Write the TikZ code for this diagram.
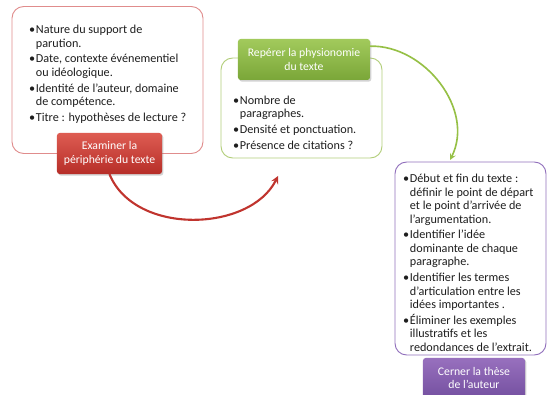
\documentclass[tikz,border=0pt]{standalone}
\usepackage{fontspec}
\setmainfont{Carlito}
\usetikzlibrary{arrows, positioning, shadows}
\definecolor{texte}{RGB}{30,30,30}
\definecolor{rougecadre}{RGB}{224,140,140}
\definecolor{rougehaut}{RGB}{222,92,82}
\definecolor{rougebas}{RGB}{182,46,40}
\definecolor{rougefleche}{RGB}{192,52,46}
\definecolor{vertcadre}{RGB}{178,206,122}
\definecolor{verthaut}{RGB}{162,202,92}
\definecolor{vertbas}{RGB}{122,166,56}
\definecolor{vertfleche}{RGB}{150,192,70}
\definecolor{violetcadre}{RGB}{145,112,188}
\definecolor{violethaut}{RGB}{152,112,190}
\definecolor{violetbas}{RGB}{116,80,160}

\newcommand{\puce}{\makebox[0.55em][l]{•}}
\newcommand{\suite}{\hspace*{0.55em}}

\tikzset{
  cadre/.style={draw, line width=0.8pt, rounded corners=0.35cm, fill=white},
  etiquette/.style={rounded corners=0.08cm, text=white, align=center,
    font=\fontsize{10}{11.5}\selectfont,
    drop shadow={opacity=0.35, shadow xshift=0.04cm, shadow yshift=-0.05cm}},
  liste/.style={anchor=north west, inner sep=0pt, align=left, text=texte,
    font=\fontsize{10.4}{11.5}\selectfont},
  fleche/.style={-stealth, line cap=round}
}

\begin{document}
\begin{tikzpicture}[x=0.03cm, y=-0.03cm]
\useasboundingbox (0,0) rectangle (547,395);
\clip (0,0) rectangle (547,395);

% peripherie du texte
\node[cadre, draw=rougecadre, minimum width=5.73cm, minimum height=4.41cm] (peripherie) at (107.5,80) {};
\node[liste] (peripherie-txt) at (29,25) {\puce Nature du support de\\ \suite parution.\\[2pt]
  \puce Date, contexte événementiel\\ \suite ou idéologique.\\[2pt]
  \puce Identité de l'auteur, domaine\\ \suite de compétence.\\[2pt]
  \puce Titre : hypothèses de lecture ?};
\node[etiquette, top color=rougehaut, bottom color=rougebas, minimum width=3.15cm, minimum height=1.23cm] (examiner) at (109.5,153.5) {Examiner la\\périphérie du texte};

% physionomie
\node[cadre, draw=vertcadre, minimum width=4.83cm, minimum height=3cm] (physionomie) at (301.5,108) {};
\node[liste] (physionomie-txt) at (233,95.5) {\puce Nombre de\\ \suite paragraphes.\\[2pt]
  \puce Densité et ponctuation.\\[2pt]
  \puce Présence de citations ?};
\node[etiquette, top color=verthaut, bottom color=vertbas, minimum width=3.96cm, minimum height=1.23cm] (reperer) at (304,59.5) {Repérer la physionomie\\du texte};

% these
\node[cadre, draw=violetcadre, minimum width=4.53cm, minimum height=5.79cm] (these) at (470.5,258.5) {};
\node[liste] (these-txt) at (403,174) {\puce Début et fin du texte :\\ \suite définir le point de départ\\ \suite et le point d'arrivée de\\ \suite l'argumentation.\\[2pt]
  \puce Identifier l'idée\\ \suite dominante de chaque\\ \suite paragraphe.\\[2pt]
  \puce Identifier les termes\\ \suite d'articulation entre les\\ \suite idées importantes .\\[2pt]
  \puce Éliminer les exemples\\ \suite illustratifs et les\\ \suite redondances de l'extrait.};
\node[etiquette, top color=violethaut, bottom color=violetbas, minimum width=3.06cm, minimum height=1.2cm] (cerner) at (474,378) {Cerner la thèse\\de l'auteur};

% fleches
\coordinate (pointe1) at (278,176);
\coordinate (pointe2) at (450,160);
\draw[fleche, rougefleche, line width=1.8pt] (examiner.south) .. controls (135,236) and (250,232) .. (pointe1);
\draw[fleche, vertfleche, line width=1.4pt] ([yshift=0.4cm]reperer.east) .. controls (425,45) and (475,110) .. (pointe2);
\end{tikzpicture}
\end{document}
